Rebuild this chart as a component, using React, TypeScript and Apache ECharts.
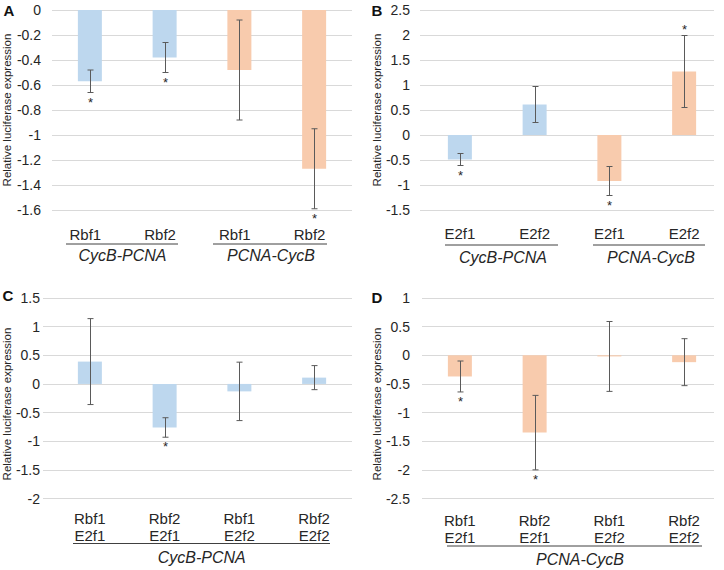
import React, { useEffect, useRef } from 'react';
import * as echarts from 'echarts';

// ---------- data ----------
const catsA = ['Rbf1', 'Rbf2', 'Rbf1', 'Rbf2'];
const reporterA = ['CycB-PCNA', 'CycB-PCNA', 'PCNA-CycB', 'PCNA-CycB'];
const meanA = [-0.57, -0.38, -0.48, -1.27];
const errA = [0.09, 0.12, 0.40, 0.32];
const starA = [1, 1, 0, 1]; // 1 = star below, 2 = star above
const groupsA = ['CycB-PCNA', 'PCNA-CycB'];

const catsB = ['E2f1', 'E2f2', 'E2f1', 'E2f2'];
const reporterB = ['CycB-PCNA', 'CycB-PCNA', 'PCNA-CycB', 'PCNA-CycB'];
const meanB = [-0.49, 0.61, -0.92, 1.27];
const errB = [0.12, 0.36, 0.29, 0.72];
const starB = [1, 0, 1, 2];
const groupsB = ['CycB-PCNA', 'PCNA-CycB'];

const catsC = ['Rbf1\nE2f1', 'Rbf2\nE2f1', 'Rbf1\nE2f2', 'Rbf2\nE2f2'];
const reporterC = ['CycB-PCNA', 'CycB-PCNA', 'CycB-PCNA', 'CycB-PCNA'];
const meanC = [0.39, -0.76, -0.13, 0.11];
const errC = [0.75, 0.17, 0.51, 0.21];
const starC = [0, 1, 0, 0];
const groupsC = ['CycB-PCNA'];

const catsD = ['Rbf1\nE2f1', 'Rbf2\nE2f1', 'Rbf1\nE2f2', 'Rbf2\nE2f2'];
const reporterD = ['PCNA-CycB', 'PCNA-CycB', 'PCNA-CycB', 'PCNA-CycB'];
const meanD = [-0.37, -1.35, -0.02, -0.12];
const errD = [0.27, 0.65, 0.61, 0.41];
const starD = [1, 1, 0, 0];
const groupsD = ['PCNA-CycB'];

const yRangeA = [-1.6, 0, 0.2];
const yRangeB = [-1.5, 2.5, 0.5];
const yRangeC = [-2, 1.5, 0.5];
const yRangeD = [-2.5, 1, 0.5];

const yTitle = 'Relative luciferase expression';
const letters = ['A', 'B', 'C', 'D'];

// ---------- styles / layout ----------
const FONT = '"Liberation Sans", Arial, Helvetica, sans-serif';
const TXT = '#262626';
const reporterColor: Record<string, string> = {
  'CycB-PCNA': '#BDD7EE',
  'PCNA-CycB': '#F8CBAD',
};

const panels = [
  {
    cats: catsA, rep: reporterA, mean: meanA, err: errA, star: starA, groups: groupsA, yr: yRangeA,
    top: 10, height: 200, gl: 52, gr: 352, bl: 52.5, bw: 299, lblMargin: 11, catMargin: 15.5, catPad: [0, 9, 0, 0],
    letter: [9, 10], title: [7, 110],
    gLines: [[66, 178, 244], [213, 327, 244]], gText: [[122.5, 255.5], [271, 255.5]],
  },
  {
    cats: catsB, rep: reporterB, mean: meanB, err: errB, star: starB, groups: groupsB, yr: yRangeB,
    top: 10, height: 200, gl: 420, gr: 714, bl: 422.5, bw: 299, lblMargin: 10, catMargin: 15, catPad: [0, 0, 0, 0],
    letter: [377, 10], title: [377, 110],
    gLines: [[445, 558, 245], [593, 705, 245]], gText: [[503, 257], [651, 257]],
  },
  {
    cats: catsC, rep: reporterC, mean: meanC, err: errC, star: starC, groups: groupsC, yr: yRangeC,
    top: 298, height: 200.5, gl: 43, gr: 352, bl: 52.5, bw: 299, lblMargin: 3, catMargin: 11, catPad: [0, 0, 0, 0],
    letter: [8, 295], title: [7, 404],
    gLines: [[73, 330, 543.5]], gText: [[201.7, 557.5]],
  },
  {
    cats: catsD, rep: reporterD, mean: meanD, err: errD, star: starD, groups: groupsD, yr: yRangeD,
    top: 298, height: 200.5, gl: 422, gr: 714, bl: 422.5, bw: 299, lblMargin: 12, catMargin: 13, catPad: [0, 0, 0, 0],
    letter: [377, 297], title: [377, 404],
    gLines: [[447, 702, 546]], gText: [[580, 559]],
  },
];

function buildOption() {
  const grid: any[] = [];
  const xAxis: any[] = [];
  const yAxis: any[] = [];
  const series: any[] = [];
  const graphic: any[] = [];

  panels.forEach((p, i) => {
    const gi = 2 * i;
    const bi = 2 * i + 1;
    const [yMin, yMax, yStep] = p.yr;
    grid.push({ left: p.gl, top: p.top, width: p.gr - p.gl, height: p.height });
    grid.push({ left: p.bl, top: p.top, width: p.bw, height: p.height });

    xAxis.push({ gridIndex: gi, type: 'category', data: p.cats, show: false });
    yAxis.push({
      gridIndex: gi, type: 'value', min: yMin, max: yMax, interval: yStep,
      axisLine: { show: false }, axisTick: { show: false },
      axisLabel: { margin: p.lblMargin, fontSize: 14, color: TXT, fontFamily: FONT },
      splitLine: { lineStyle: { color: '#D9D9D9', width: 1 } },
    });

    xAxis.push({
      gridIndex: bi, type: 'category', data: p.cats, position: 'bottom',
      axisLine: { show: false, onZero: false }, axisTick: { show: false },
      axisLabel: {
        interval: 0, margin: p.catMargin, fontSize: 15, lineHeight: 17, color: TXT,
        fontFamily: FONT, padding: p.catPad,
      },
    });
    yAxis.push({ gridIndex: bi, type: 'value', min: yMin, max: yMax, interval: yStep, show: false, splitLine: { show: false } });

    series.push({
      type: 'bar', xAxisIndex: bi, yAxisIndex: bi, barWidth: 24,
      data: p.mean.map((v, j) => ({ value: v, itemStyle: { color: reporterColor[p.rep[j]] } })),
    });

    series.push({
      type: 'custom', xAxisIndex: bi, yAxisIndex: bi, z: 10,
      data: p.mean.map((m, j) => [j, m - p.err[j], m + p.err[j], p.star[j]]),
      renderItem: (params: any, api: any) => {
        const j = api.value(0);
        const lo = api.value(1);
        const hi = api.value(2);
        const st = api.value(3);
        const a = api.coord([j, hi]);
        const b = api.coord([j, lo]);
        const x = Math.round(a[0]) + 0.5;
        const st1 = { stroke: '#5A5A5A', lineWidth: 1 };
        const children: any[] = [
          { type: 'line', shape: { x1: x, y1: a[1], x2: x, y2: b[1] }, style: st1 },
          { type: 'line', shape: { x1: x - 3, y1: a[1], x2: x + 3, y2: a[1] }, style: st1 },
          { type: 'line', shape: { x1: x - 3, y1: b[1], x2: x + 3, y2: b[1] }, style: st1 },
        ];
        if (st === 1 || st === 2) {
          const y = st === 1 ? b[1] + 9.5 : a[1] - 5.6;
          children.push({
            type: 'text',
            style: {
              text: '*', x, y, align: 'center', verticalAlign: 'middle',
              fontSize: 13, lineHeight: 8, fontFamily: FONT, fill: TXT,
            },
          });
        }
        return { type: 'group', children };
      },
    });

    // panel letter
    graphic.push({
      type: 'text', x: p.letter[0], y: p.letter[1],
      style: { text: letters[i], align: 'center', verticalAlign: 'middle', fontSize: 15, fontWeight: 'bold', fontFamily: FONT, fill: '#111' },
    });
    // y-axis title
    graphic.push({
      type: 'text', x: p.title[0], y: p.title[1], rotation: Math.PI / 2,
      style: { text: yTitle, align: 'center', verticalAlign: 'middle', fontSize: 11.5, fontFamily: FONT, fill: TXT },
    });
    // group underlines and labels
    p.groups.forEach((g, k) => {
      const [x1, x2, ly] = p.gLines[k];
      graphic.push({
        type: 'line', shape: { x1, y1: ly, x2, y2: ly }, style: { stroke: '#404040', lineWidth: 1 },
      });
      const [tx, ty] = p.gText[k];
      graphic.push({
        type: 'text', x: tx, y: ty,
        style: { text: g, align: 'center', verticalAlign: 'middle', fontSize: 16, fontStyle: 'italic', fontFamily: FONT, fill: TXT },
      });
    });
  });

  return { animation: false, backgroundColor: '#ffffff', grid, xAxis, yAxis, series, graphic };
}

export default function App() {
  const ref = useRef<HTMLDivElement>(null);
  useEffect(() => {
    document.body.style.margin = '0';
    if (!ref.current) return;
    const chart = echarts.init(ref.current, undefined, { renderer: 'svg' });
    chart.setOption(buildOption() as any);
    return () => chart.dispose();
  }, []);
  return <div ref={ref} style={{ width: 724, height: 570 }} />;
}
